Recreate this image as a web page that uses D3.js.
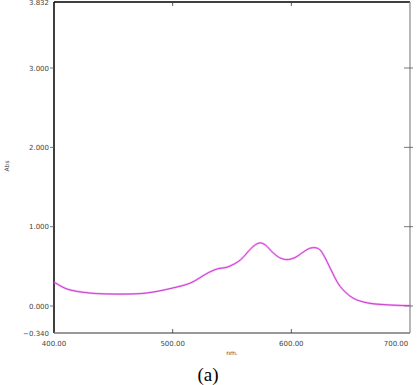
<!DOCTYPE html>
<html>
<head>
<meta charset="UTF-8">
<script src="https://cdn.jsdelivr.net/npm/d3@7/dist/d3.min.js"></script>
<style>
  body { margin: 0; background: #fff; }
  text { font-family: "DejaVu Sans", Arial, sans-serif; }
</style>
</head>
<body>
<div id="chart"></div>
<script>
// spectrum
const wavelength = [400, 411, 430, 458, 478, 500, 515, 530, 538, 546, 557, 565, 570, 574, 578, 584, 590, 596, 603, 610, 615, 620, 624, 628, 633, 641, 652, 664, 681, 700];
const absorbance = [0.303, 0.214, 0.164, 0.151, 0.164, 0.227, 0.29, 0.42, 0.47, 0.49, 0.58, 0.71, 0.775, 0.795, 0.77, 0.68, 0.61, 0.585, 0.61, 0.68, 0.725, 0.735, 0.71, 0.62, 0.47, 0.25, 0.10, 0.04, 0.015, 0.005];
const yTicks = [-0.340, 0, 1, 2, 3, 3.832];
const xTicks = [400, 500, 600, 700];

const W = 420, H = 385;
const m = { left: 54, right: 410, top: 2, bottom: 333 };

const svg = d3.select("#chart").append("svg")
  .attr("width", W).attr("height", H);

const x = d3.scaleLinear().domain([400, 700]).range([m.left, m.right]);
const y = d3.scaleLinear().domain([-0.340, 3.832]).range([m.bottom, m.top]);

// frame
svg.append("line").attr("x1", m.left).attr("x2", m.right).attr("y1", m.top).attr("y2", m.top)
  .attr("stroke", "#000").attr("stroke-width", 1.5);
svg.append("line").attr("x1", m.left).attr("x2", m.left).attr("y1", m.top).attr("y2", m.bottom)
  .attr("stroke", "#000").attr("stroke-width", 1.5);
svg.append("line").attr("x1", m.right).attr("x2", m.right).attr("y1", m.top).attr("y2", m.bottom)
  .attr("stroke", "#888").attr("stroke-width", 1.2);
svg.append("line").attr("x1", m.left).attr("x2", m.right).attr("y1", m.bottom).attr("y2", m.bottom)
  .attr("stroke", "#777").attr("stroke-width", 1.5);

// y ticks + labels
yTicks.forEach(v => {
  const py = y(v);
  if (v > -0.3 && v < 3.5) {
    svg.append("line").attr("x1", m.left - 4).attr("x2", m.left).attr("y1", py).attr("y2", py)
      .attr("stroke", "#555").attr("stroke-width", 0.8);
    svg.append("line").attr("x1", m.right - 6).attr("x2", m.right + 3).attr("y1", py).attr("y2", py)
      .attr("stroke", "#555").attr("stroke-width", 0.8);
  }
  svg.append("text").attr("x", m.left - 5).attr("y", py + 2.5)
    .attr("text-anchor", "end").attr("font-size", 7).attr("fill", "#444")
    .text(d3.format(".3f")(v));
});

// x ticks + labels
xTicks.forEach(v => {
  const px = x(v);
  if (v > 400 && v < 700) {
    svg.append("line").attr("x1", px).attr("x2", px).attr("y1", m.bottom - 4).attr("y2", m.bottom)
      .attr("stroke", "#333").attr("stroke-width", 0.8);
    svg.append("line").attr("x1", px).attr("x2", px).attr("y1", m.top).attr("y2", m.top + 4)
      .attr("stroke", "#333").attr("stroke-width", 0.8);
  }
  svg.append("text").attr("x", Math.min(px, 396)).attr("y", 346)
    .attr("text-anchor", "middle").attr("font-size", 7).attr("fill", "#444")
    .text(v.toFixed(2));
});

// axis titles
svg.append("text").attr("x", 232).attr("y", 355).attr("text-anchor", "middle")
  .attr("font-size", 6).attr("fill", "#444").text("nm.");
svg.append("text").attr("transform", "translate(9,166) rotate(-90)")
  .attr("text-anchor", "middle").attr("font-size", 6).attr("fill", "#444").text("Abs");

// spectrum
const line = d3.line()
  .x((d, i) => x(wavelength[i]))
  .y(d => y(d))
  .curve(d3.curveCatmullRom.alpha(0.5));
svg.append("path").datum(absorbance)
  .attr("d", line).attr("fill", "none")
  .attr("stroke", "#f080f0").attr("stroke-width", 2.2).attr("stroke-opacity", 0.6);
svg.append("path").datum(absorbance)
  .attr("d", line).attr("fill", "none")
  .attr("stroke", "#c030c8").attr("stroke-width", 0.9);

// caption
svg.append("text").attr("x", 208).attr("y", 381).attr("text-anchor", "middle")
  .attr("font-size", 19).attr("fill", "#000")
  .style("font-family", "'Liberation Serif', serif")
  .text("(a)");
</script>
</body>
</html>
